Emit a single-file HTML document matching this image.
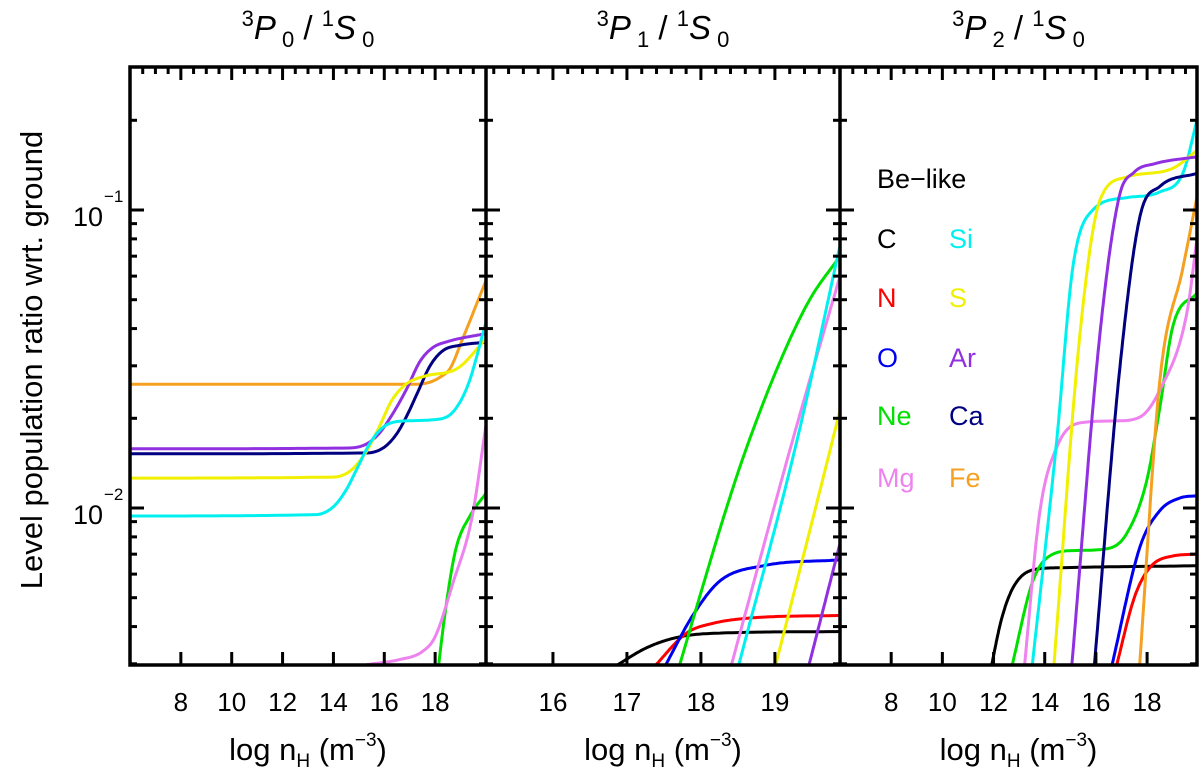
<!DOCTYPE html>
<html><head><meta charset="utf-8"><style>
html,body{margin:0;padding:0;background:#fff;}
svg{display:block;font-family:"Liberation Sans",Arial,sans-serif;}
</style></head><body>
<svg id="chart" width="1200" height="776" viewBox="0 0 1200 776">
<defs>
<clipPath id="c0"><rect x="130" y="67" width="356" height="598"/></clipPath>
<clipPath id="c1"><rect x="486" y="67" width="354" height="598"/></clipPath>
<clipPath id="c2"><rect x="840" y="67" width="357" height="598"/></clipPath>
</defs>
<g id="curves"></g>
<g id="axes"></g>
<text x="0" y="0" transform="translate(42,360) rotate(-90)" text-anchor="middle" font-size="31">Level population ratio wrt. ground</text>
<g><text x="103" y="226" text-anchor="end" font-size="27">10</text><text x="104" y="202" font-size="17">−1</text></g>
<g><text x="103" y="524" text-anchor="end" font-size="27">10</text><text x="104" y="500" font-size="17">−2</text></g>
<g id="titles"></g>
<g font-size="27">
<text x="877" y="188" fill="#000">Be−like</text>
<text x="877" y="248" fill="#000">C</text>
<text x="949" y="248" fill="#00f0f0">Si</text>
<text x="877" y="307" fill="#f00">N</text>
<text x="949" y="307" fill="#f0f000">S</text>
<text x="877" y="367" fill="#0000f0">O</text>
<text x="949" y="367" fill="#9030e0">Ar</text>
<text x="877" y="425" fill="#00e000">Ne</text>
<text x="949" y="425" fill="#000080">Ca</text>
<text x="877" y="487" fill="#ee82ee">Mg</text>
<text x="949" y="487" fill="#f5a020">Fe</text>
</g>
</svg>
<script>
const NS="http://www.w3.org/2000/svg";
const colors={C:"#000",N:"#f00",O:"#0000f0",Ne:"#00e000",Mg:"#ee82ee",Si:"#00f0f0",S:"#f0f000",Ar:"#9030e0",Ca:"#000080",Fe:"#f5a020"};
// Panel 1: 3P0/1S0  [log nH, ratio] pairs
const p1Fe=[[6,.026],[17.0,.026],[17.7,.0263],[18.2,.0275],[18.6,.0295],[19.06,.0366],[20,.058]];
const p1Ar=[[6,.0158],[14.6,.0159],[15.3,.0164],[15.8,.0178],[16.3,.0205],[16.86,.0249],[17.4,.031],[17.9,.0345],[18.5,.0362],[20,.0385]];
const p1Ca=[[6,.0152],[15.3,.0153],[16.0,.016],[16.5,.0178],[16.9,.0205],[17.3,.0243],[17.8,.030],[18.3,.0337],[19.0,.0352],[20,.036]];
const p1S=[[6,.0126],[14.0,.0127],[14.7,.0134],[15.3,.0155],[15.8,.0187],[16.3,.023],[16.9,.0262],[17.6,.0277],[18.9,.0295],[20,.037]];
const p1Si=[[6,.0094],[13.3,.0095],[14.0,.0101],[14.5,.0115],[14.9,.0134],[15.4,.0163],[15.9,.0185],[16.5,.0195],[18.0,.0198],[18.7,.021],[19.3,.026],[20,.042]];
const p1Ne=[[18.1,.0028],[18.4,.0045],[18.8,.0072],[19.4,.0095],[20,.0112]];
const p1Mg=[[15.3,.00298],[16.6,.0031],[17.5,.0033],[18,.0037],[18.7,.0056],[19.45,.0093],[20,.019]];
// Panel 2: 3P1/1S0
const p2C=[[16.8,.0029],[17.27,.0034],[17.7,.00369],[18.2,.0038],[19.88,.00385]];
const p2N=[[17.35,.0029],[17.81,.00381],[18.16,.0041],[18.7,.00428],[19.88,.00436]];
const p2O=[[17.5,.0029],[17.9,.0044],[18.26,.0057],[18.84,.0064],[19.88,.0067]];
const p2Ne=[[17.7,.0029],[18.0,.0052],[18.3,.0092],[18.6,.0155],[19.07,.031],[19.47,.05],[19.88,.07]];
const p2Mg=[[18.4,.0029],[19.24,.0169],[19.88,.06]];
const p2Si=[[18.5,.0029],[19.3,.0169],[19.88,.076]];
const p2S=[[19.0,.0029],[19.78,.0169],[19.88,.0213]];
const p2Ar=[[19.45,.0029],[19.88,.0076]];
// Panel 3: 3P2/1S0
const p3C=[[11.9,.0029],[12.3,.0042],[12.76,.0054],[13.54,.0062],[14.5,.0063],[19.98,.0064]];
const p3Ne=[[12.7,.0029],[13.54,.0057],[14.32,.0070],[15.2,.0072],[16.43,.0073],[17.2,.0082],[17.99,.0124],[18.5,.0218],[19,.0405],[19.98,.053]];
const p3Mg=[[13.2,.0029],[13.8,.0096],[14.47,.016],[15.38,.0193],[16.8,.0196],[17.72,.0202],[18.5,.0249],[19.55,.045],[19.98,.084]];
const p3Si=[[13.5,.0029],[14.47,.0169],[15.1,.0644],[15.88,.1],[17.2,.110],[18.5,.115],[19.4,.133],[19.98,.205]];
const p3S=[[14.35,.0029],[15.38,.0386],[16.16,.108],[17.2,.129],[19.0,.138],[19.98,.159]];
const p3Ar=[[15.05,.0029],[16.16,.0386],[16.9,.11],[17.5,.134],[18.3,.143],[19.98,.151]];
const p3Ca=[[15.93,.0029],[16.94,.0298],[17.72,.095],[18.5,.120],[19.98,.133]];
const p3O=[[16.6,.0029],[17.72,.0074],[18.5,.0098],[19.28,.0108],[19.98,.0110]];
const p3N=[[16.78,.0029],[17.5,.0050],[18.1,.0063],[19.0,.0069],[19.98,.0070]];
const p3Fe=[[17.7,.0029],[18.5,.0269],[19.4,.064],[19.98,.114]];

const panels=[
 {x0:130,x1:486,d0:6,d1:20,clip:"c0",series:{Fe:p1Fe,Ar:p1Ar,Ca:p1Ca,S:p1S,Si:p1Si,Ne:p1Ne,Mg:p1Mg},major:[8,10,12,14,16,18],minorStep:0.5,sub:"0"},
 {x0:486,x1:840,d0:15.095,d1:19.88,clip:"c1",series:{C:p2C,N:p2N,O:p2O,Ne:p2Ne,Mg:p2Mg,Si:p2Si,S:p2S,Ar:p2Ar},major:[16,17,18,19],minorStep:0.2,sub:"1"},
 {x0:840,x1:1197,d0:6,d1:19.95,clip:"c2",series:{C:p3C,Ne:p3Ne,Mg:p3Mg,Si:p3Si,S:p3S,Ar:p3Ar,Ca:p3Ca,O:p3O,N:p3N,Fe:p3Fe},major:[8,10,12,14,16,18],minorStep:0.5,sub:"2"}
];
const TOP=67,BOT=665;
function yS(v){return 210+(-1-Math.log10(v))*298;}
function xS(p,x){return p.x0+(x-p.d0)/(p.d1-p.d0)*(p.x1-p.x0);}
function mk(tag,attrs,parent){const e=document.createElementNS(NS,tag);for(const k in attrs)e.setAttribute(k,attrs[k]);parent.appendChild(e);return e;}
function monoSample(data,n){
 const xs=data.map(d=>d[0]),ys=data.map(d=>Math.log10(d[1]));const N=xs.length;
 if(N<2)return data.slice();
 const dl=[],m=new Array(N);
 for(let i=0;i<N-1;i++)dl.push((ys[i+1]-ys[i])/(xs[i+1]-xs[i]));
 m[0]=dl[0];m[N-1]=dl[N-2];
 for(let i=1;i<N-1;i++)m[i]=(dl[i-1]*dl[i]<=0)?0:(dl[i-1]+dl[i])/2;
 for(let i=0;i<N-1;i++){
  if(dl[i]===0){m[i]=0;m[i+1]=0;continue;}
  const a=m[i]/dl[i],b=m[i+1]/dl[i],s=a*a+b*b;
  if(s>9){const t=3/Math.sqrt(s);m[i]=t*a*dl[i];m[i+1]=t*b*dl[i];}
 }
 const out=[];
 for(let i=0;i<N-1;i++){
  const h=xs[i+1]-xs[i];
  for(let k=0;k<n;k++){
   const t=k/n,t2=t*t,t3=t2*t;
   const y=(2*t3-3*t2+1)*ys[i]+(t3-2*t2+t)*h*m[i]+(-2*t3+3*t2)*ys[i+1]+(t3-t2)*h*m[i+1];
   out.push([xs[i]+t*h,Math.pow(10,y)]);
  }
 }
 out.push([xs[N-1],data[N-1][1]]);
 return out;
}
const cg=document.getElementById("curves"),ag=document.getElementById("axes"),tg=document.getElementById("titles");
panels.forEach((p,pi)=>{
 const g=mk("g",{"clip-path":"url(#"+p.clip+")"},cg);
 
 
 for(const el in p.series){
  const pts=monoSample(p.series[el],30).map(q=>xS(p,q[0]).toFixed(1)+","+yS(q[1]).toFixed(1));
  const path=mk("polyline",{points:pts.join(" "),fill:"none",stroke:colors[el],"stroke-width":3,"stroke-linejoin":"round"},g);
  
  
 }
 const start=Math.ceil(p.d0/p.minorStep)*p.minorStep;
 for(let x=start;x<=p.d1+1e-9;x+=p.minorStep){
  const px=xS(p,x);if(px<=p.x0+1||px>=p.x1-1)continue;
  const isMaj=Math.abs(x-Math.round(x))<1e-6&&p.major.includes(Math.round(x));
  mk("line",{x1:px,x2:px,y1:TOP,y2:TOP+(isMaj?13:7),stroke:"#000","stroke-width":3},ag);
  if(isMaj){
   mk("line",{x1:px,x2:px,y1:BOT,y2:BOT-13,stroke:"#000","stroke-width":3},ag);
   const t=mk("text",{x:px,y:711,"text-anchor":"middle","font-size":26},ag);
   t.textContent=String(Math.round(x));
   
   
  }
 }
 const xt=mk("text",{x:(p.x0+p.x1)/2,y:760,"text-anchor":"middle","font-size":31},ag);
 xt.innerHTML='log n<tspan font-size="19" dy="7">H</tspan><tspan dy="-7"> (m</tspan><tspan font-size="19" dy="-14">−3</tspan><tspan dy="14">)</tspan>';
 
 
 const tt=mk("text",{x:(p.x0+p.x1)/2,y:39,"text-anchor":"middle","font-size":33},tg);
 tt.innerHTML='<tspan font-size="22" dy="-13">3</tspan><tspan dy="13" font-style="italic">P</tspan><tspan font-size="22" dy="8"> '+p.sub+'</tspan><tspan dy="-8"> / </tspan><tspan font-size="22" dy="-13">1</tspan><tspan dy="13" font-style="italic">S</tspan><tspan font-size="22" dy="8"> 0</tspan>';
 
 
});
const vlines=[[130,1,0],[486,1,1],[840,1,1],[1197,0,1]];
for(let dec=-3;dec<=-1;dec++){
 for(let m=1;m<=9;m++){
  const v=m*Math.pow(10,dec);if(v<0.003||v>0.3)continue;
  const py=yS(v);if(py<=TOP+1||py>=BOT-1)continue;
  const len=m===1?14:7;
  vlines.forEach(([x,r,l])=>{
   mk("line",{x1:x-(l?len:0),x2:x+(r?len:0),y1:py,y2:py,stroke:"#000","stroke-width":3},ag);
  });
 }
}
const fr=mk("rect",{x:130,y:TOP,width:1067,height:BOT-TOP,fill:"none",stroke:"#000","stroke-width":3.5},ag);


[486,840].forEach(x=>{
 const l=mk("line",{x1:x,x2:x,y1:TOP,y2:BOT,stroke:"#000","stroke-width":3.5},ag);
 
 
});
</script>
</body></html>
